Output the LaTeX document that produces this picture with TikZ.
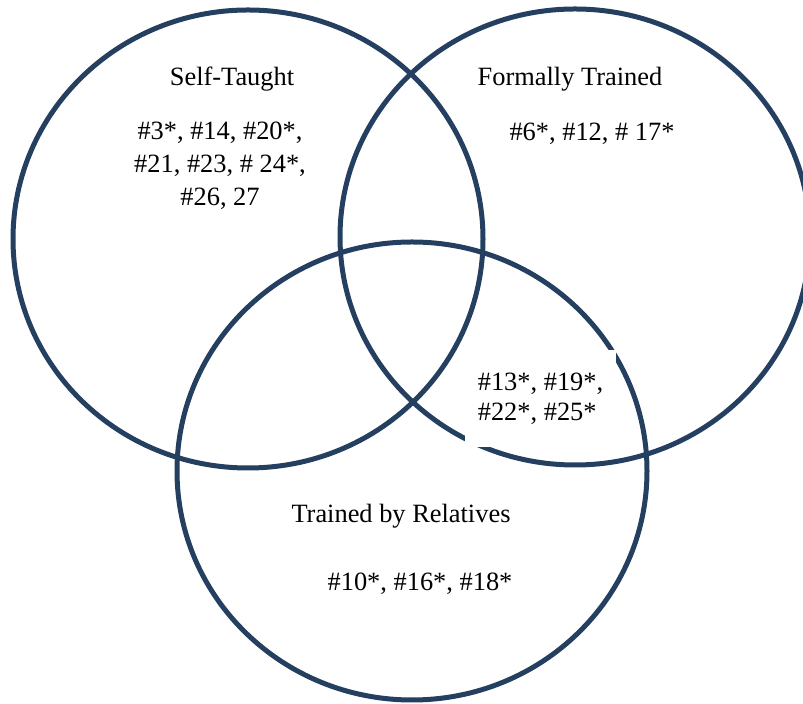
\documentclass[tikz,border=0pt]{standalone}
\usepackage{fontspec}
\setmainfont{Liberation Serif}
\definecolor{ringblue}{HTML}{243F60}

\begin{document}
\begin{tikzpicture}[x=0.5pt, y=-0.5pt,
		ring/.style={draw=ringblue, line width=2.5pt},
		lbl/.style={font=\fontsize{13.2}{16.5}\selectfont, align=center, inner sep=0pt}]
			\useasboundingbox (0,0) rectangle (803,704);

			\draw[ring] (248,239) ellipse [x radius=235, y radius=229];
			\draw[ring] (575,237) ellipse [x radius=235, y radius=228];
			\draw[ring] (412,471) ellipse [x radius=235, y radius=229];

			\node[lbl] (selftaught) at (232,79) {Self-Taught};
			\node[lbl] (selflist) at (220,166) {\#3*, \#14, \#20*,\\ \#21, \#23, \# 24*,\\ \#26, 27};

			\node[lbl] (formal) at (570,79) {Formally Trained};
			\node[lbl] (formallist) at (592,134) {\#6*, \#12, \# 17*};

			\node[lbl, fill=white, align=left, minimum width=75.5pt, minimum height=48.5pt,
				font=\fontsize{13.2}{15}\selectfont] (bothlist) at (540.5,398.5) {\#13*, \#19*,\\ \#22*, \#25*};

			\node[lbl] (relatives) at (401,516) {Trained by Relatives};
			\node[lbl] (relativeslist) at (420,584) {\#10*, \#16*, \#18*};
		\end{tikzpicture}
\end{document}
